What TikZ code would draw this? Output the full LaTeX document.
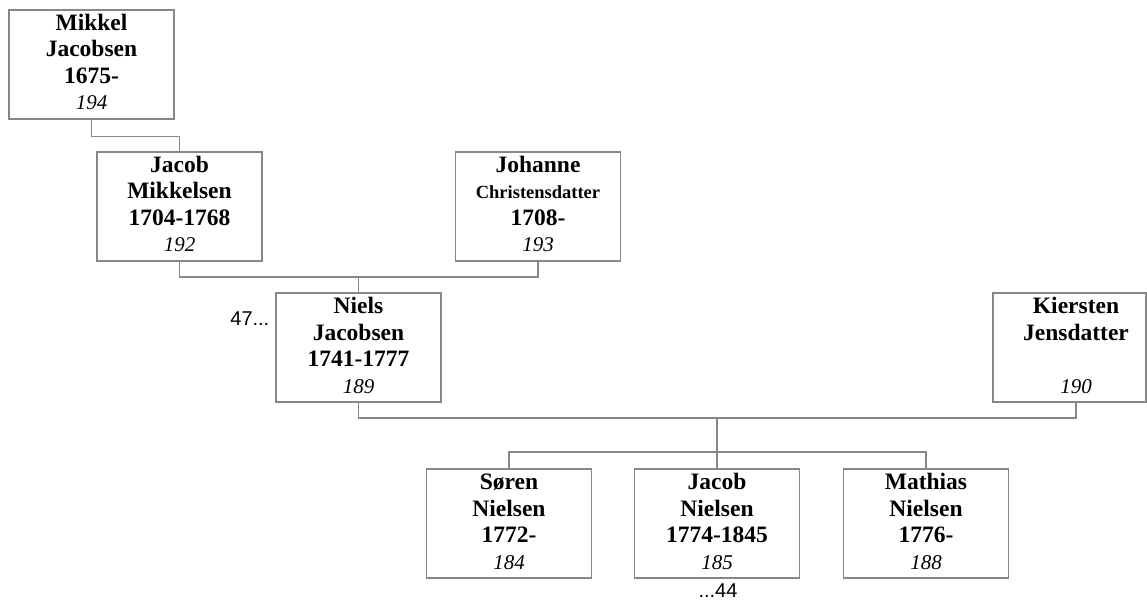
\documentclass[tikz,border=0pt]{standalone}
\usepackage{fontspec}
\setmainfont{Liberation Serif}
\newfontfamily\notefont{Liberation Sans}
\definecolor{linegray}{RGB}{135,135,135}
\newcommand\pbox[1]{\vtop{\baselineskip=26.5pt\lineskiplimit=-60pt\lineskip=0pt\halign{\hfil##\hfil\cr#1\crcr}}}
\newcommand\idnum[1]{\fontsize{21}{26.5}\selectfont\mdseries\itshape #1}
\newcommand\smallname[1]{\fontsize{18.5}{26.5}\selectfont #1}
\tikzset{
  person/.style={draw=linegray, line width=1.3pt, minimum width=165pt, inner sep=0pt,
    text height=20.5pt, text depth=88.5pt,
    font=\fontsize{23.5}{26.5}\selectfont\bfseries},
  conn/.style={draw=linegray, line width=1.3pt},
  note/.style={inner sep=0pt, font=\notefont\fontsize{20}{22}\selectfont}
}
\begin{document}
\begin{tikzpicture}[x=1pt,y=-1pt]
\useasboundingbox (0,0) rectangle (1147,601);
\node[person] (mik) at (91.5,64.5) {\pbox{Mikkel\cr Jacobsen\cr 1675-\cr \idnum{194}}};
\node[person] (jm) at (179.5,206.5) {\pbox{Jacob\cr Mikkelsen\cr 1704-1768\cr \idnum{192}}};
\node[person] (jo) at (538,206.5) {\pbox{Johanne\cr \smallname{Christensdatter}\cr 1708-\cr \idnum{193}}};
\node[person] (ni) at (358.5,347.5) {\pbox{Niels\cr Jacobsen\cr 1741-1777\cr \idnum{189}}};
\node[person, minimum width=153pt] (ki) at (1069.5,347.5) {\hspace*{13pt}\pbox{Kiersten\cr Jensdatter\cr \cr \idnum{190}}};
\node[person] (so) at (509,523.5) {\pbox{Søren\cr Nielsen\cr 1772-\cr \idnum{184}}};
\node[person] (jn) at (717,523.5) {\pbox{Jacob\cr Nielsen\cr 1774-1845\cr \idnum{185}}};
\node[person] (ma) at (926,523.5) {\pbox{Mathias\cr Nielsen\cr 1776-\cr \idnum{188}}};
\node[note, anchor=base east] (n47) at (269.5,325) {47...};
\node[note, anchor=base] (n44) at (718,597.5) {...44};
\coordinate (m1) at (358.5,277);
\coordinate (m2) at (717,418);
\coordinate (m3) at (717,452);
\coordinate (kb) at (1076,402);
\draw[conn] (mik.south) -- ++(0,17) -| (jm.north);
\draw[conn] (jm.south) |- (m1) -| (jo.south);
\draw[conn] (m1) -- (ni.north);
\draw[conn] (ni.south) |- (m2) -| (kb);
\draw[conn] (m2) -- (m3);
\draw[conn] (so.north) |- (m3) -| (ma.north);
\draw[conn] (m3) -- (jn.north);
\end{tikzpicture}
\end{document}
